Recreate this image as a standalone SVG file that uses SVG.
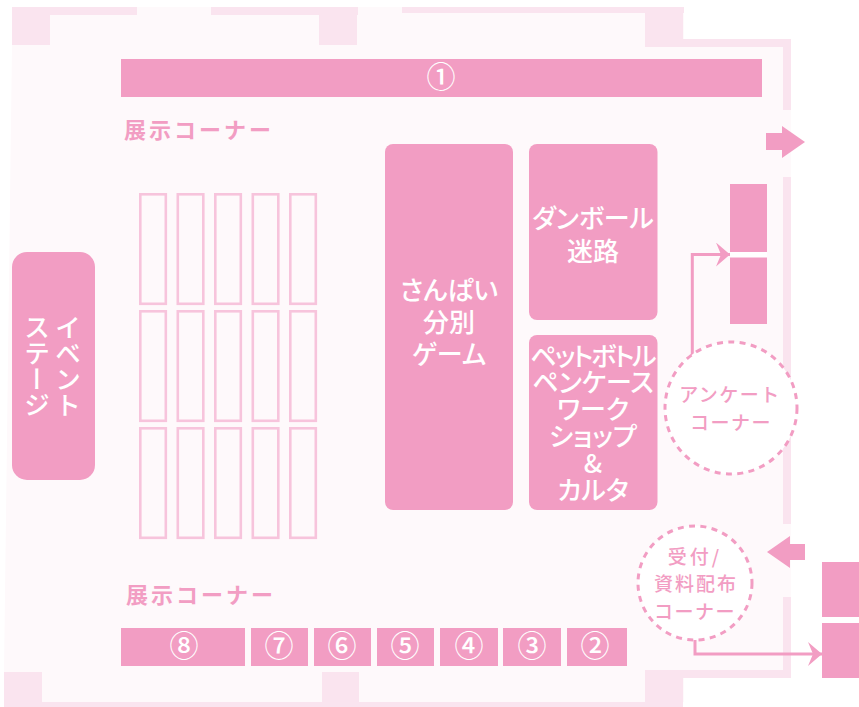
<svg xmlns="http://www.w3.org/2000/svg" width="859" height="707" viewBox="0 0 859 707">
<style>
.p{fill:#f29dc3}
.b{fill:#fae4ef}
.s{fill:#fef9fb;stroke:#f7c4dc;stroke-width:2.6}
.c{fill:#fff;stroke:#f29dc3;stroke-width:3;stroke-dasharray:6 5.4}
text{font-family:"Noto Sans CJK JP","Noto Sans",sans-serif;text-anchor:middle}
.w{fill:#fff;font-size:26px;font-weight:500;font-feature-settings:"palt"}
.n{fill:#fff;font-size:29px;font-weight:500}
.l{fill:#f29dc3;font-size:22px;font-weight:700;letter-spacing:3px}
.m{fill:#f29dc3;font-size:19px;font-weight:500;letter-spacing:1.5px}
.v{writing-mode:vertical-rl;font-feature-settings:normal}
.k{fill:none;stroke:#f29dc3;stroke-width:3}
</style>
<defs><marker id="a" markerUnits="userSpaceOnUse" markerWidth="16" markerHeight="24" refX="14" refY="12" orient="auto"><path d="M0 0L14 12L0 24L5 12Z" fill="#f29dc3"/></marker></defs>
<g id="floor">
<path d="M12 7H684V39H791V678H684V702H4L4 672L12 45Z" fill="#fef9fb"/>
<path class="b" d="M12 7H137V15H50V45H12ZM211 7H358V15H357V45H319V15H211ZM402 7H684V13H683V39H791V110H783V47H645V13H402ZM783 177H791V524H783ZM783 597H791V678H683V707H4V672H42V702H322V672H359V702H645V670H783Z"/>
</g>
<g id="seats">
<rect class="s" x="140.300" y="194.300" width="25.500" height="109.500"/><rect class="s" x="177.800" y="194.300" width="25.500" height="109.500"/><rect class="s" x="215.300" y="194.300" width="25.500" height="109.500"/><rect class="s" x="252.800" y="194.300" width="25.500" height="109.500"/><rect class="s" x="290.300" y="194.300" width="25.500" height="109.500"/>
<rect class="s" x="140.300" y="311.300" width="25.500" height="109.500"/><rect class="s" x="177.800" y="311.300" width="25.500" height="109.500"/><rect class="s" x="215.300" y="311.300" width="25.500" height="109.500"/><rect class="s" x="252.800" y="311.300" width="25.500" height="109.500"/><rect class="s" x="290.300" y="311.300" width="25.500" height="109.500"/>
<rect class="s" x="140.300" y="428.300" width="25.500" height="109.500"/><rect class="s" x="177.800" y="428.300" width="25.500" height="109.500"/><rect class="s" x="215.300" y="428.300" width="25.500" height="109.500"/><rect class="s" x="252.800" y="428.300" width="25.500" height="109.500"/><rect class="s" x="290.300" y="428.300" width="25.500" height="109.500"/>
</g>
<g id="booth1"><rect class="p" x="121" y="59" width="641" height="38"/><text class="n" x="441" y="88">①</text></g>
<g id="booth8"><rect class="p" x="121" y="628" width="124" height="38"/><text class="n" x="184" y="657">⑧</text></g>
<g id="booth7"><rect class="p" x="251" y="628" width="57" height="38"/><text class="n" x="279" y="657">⑦</text></g>
<g id="booth6"><rect class="p" x="314" y="628" width="57" height="38"/><text class="n" x="342" y="657">⑥</text></g>
<g id="booth5"><rect class="p" x="377" y="628" width="57" height="38"/><text class="n" x="405" y="657">⑤</text></g>
<g id="booth4"><rect class="p" x="440" y="628" width="58" height="38"/><text class="n" x="469" y="657">④</text></g>
<g id="booth3"><rect class="p" x="503" y="628" width="58" height="38"/><text class="n" x="532" y="657">③</text></g>
<g id="booth2"><rect class="p" x="567" y="628" width="60" height="38"/><text class="n" x="595" y="657">②</text></g>
<g id="label-top"><text class="l" x="199" y="138">展示コーナー</text></g>
<g id="label-bottom"><text class="l" x="201" y="603">展示コーナー</text></g>
<g id="stage"><rect class="p" x="12" y="252" width="83" height="228" rx="15"/>
<text class="w v" x="68" y="366">イベント</text>
<text class="w v" x="37" y="366">ステージ</text></g>
<g id="game"><rect class="p" x="385" y="144" width="128" height="366" rx="8"/>
<text class="w" x="449" y="300">さんぱい</text><text class="w" x="449" y="332">分別</text><text class="w" x="449" y="364">ゲーム</text></g>
<g id="maze"><rect class="p" x="529" y="144" width="128.500" height="176" rx="8"/>
<text class="w" x="593" y="228">ダンボール</text><text class="w" x="593" y="261">迷路</text></g>
<g id="workshop"><rect class="p" x="529" y="335" width="128.500" height="175" rx="8"/>
<text class="w" x="592.500" y="366" style="letter-spacing:-2px">ペットボトル</text><text class="w" x="593" y="392">ペンケース</text><text class="w" x="593" y="419">ワーク</text><text class="w" x="593" y="446">ショップ</text><text class="w" x="593" y="473">&amp;</text><text class="w" x="593" y="500">カルタ</text></g>
<g id="connectors">
<path class="k" d="M692.300 356V254.500H730" marker-end="url(#a)"/>
<path class="k" d="M695 639V654H822" marker-end="url(#a)"/>
</g>
<g id="door-out"><path class="p" d="M766 133H782V126L805 142L782 158V150H766Z"/></g>
<g id="door-in"><path class="p" d="M767 552L790 536V544H805V560H790V568Z"/></g>
<g id="rack-a"><rect class="p" x="730" y="184" width="37" height="140"/><rect x="730" y="252" width="37" height="5.500" fill="#fff"/></g>
<g id="rack-b"><rect class="p" x="822" y="562" width="37" height="55"/><rect class="p" x="822" y="623" width="37" height="55"/></g>
<g id="survey"><circle class="c" cx="731" cy="408" r="66"/>
<text class="m" x="730" y="402">アンケート</text><text class="m" x="731" y="430">コーナー</text></g>
<g id="reception"><circle class="c" cx="695" cy="583" r="57"/>
<text class="m" x="695" y="564" style="letter-spacing:3px">受付/</text><text class="m" x="696" y="591" style="letter-spacing:2px">資料配布</text><text class="m" x="695" y="619">コーナー</text></g>
</svg>
